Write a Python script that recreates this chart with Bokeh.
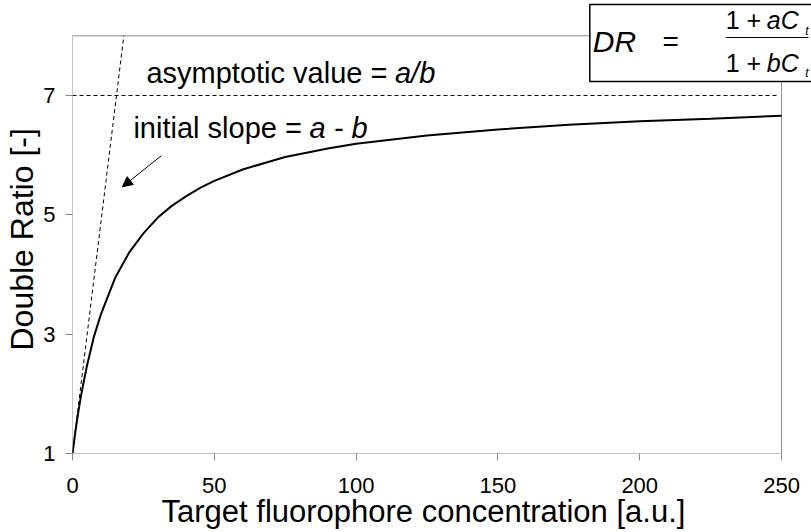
from bokeh.plotting import figure
from bokeh.models import Label, Arrow, NormalHead, FixedTicker, Range1d, Title
from bokeh.embed import file_html
from bokeh.resources import INLINE

# ---- data ----
conc = [0, 1, 2, 3, 5, 7.5, 10, 15, 20, 25, 30, 35, 40, 45, 50, 60, 75, 90, 100,
        125, 150, 175, 200, 225, 250]
double_ratio = [1.0, 1.36, 1.68, 1.97, 2.45, 2.95, 3.33, 3.94, 4.37, 4.69, 4.95,
                5.15, 5.31, 5.45, 5.57, 5.76, 5.97, 6.11, 6.19, 6.33, 6.43, 6.51,
                6.57, 6.61, 6.66]
asym_x = [0, 248.5]
asym_y = [7, 7]
slope_x = [0, 18.1]
slope_y = [1, 8]
x_ticks = [0, 50, 100, 150, 200, 250]
y_ticks = [1, 3, 5, 7]
x_lim = [0, 250]
y_lim = [1, 8]

FONT = "Liberation Sans"
GREY = "#8a8a8a"

p = figure(width=811, height=532, output_backend="svg", toolbar_location=None,
           x_range=Range1d(0, 260.56), y_range=Range1d(1, 8.592),
           min_border_left=71, min_border_right=0, min_border_top=0,
           min_border_bottom=79)
p.grid.visible = False
p.outline_line_color = None
p.background_fill_color = "white"
p.border_fill_color = "white"

for ax, ticks in ((p.xaxis, x_ticks), (p.yaxis, y_ticks)):
    ax.ticker = FixedTicker(ticks=ticks)
    ax.axis_line_color = None
    ax.major_tick_line_color = GREY
    ax.major_tick_out = 7
    ax.major_tick_in = 0
    ax.minor_tick_line_color = None
    ax.major_label_text_font = FONT
    ax.major_label_text_font_size = "22px"
    ax.major_label_text_color = "black"
p.xaxis.major_label_standoff = 17
p.yaxis.major_label_standoff = 10

# plot frame (drawn as lines so the equation box can overlap it)
p.line([x_lim[0], x_lim[0], x_lim[1], x_lim[1], x_lim[0]],
       [y_lim[0], y_lim[1], y_lim[1], y_lim[0], y_lim[0]],
       line_color=GREY, line_width=1)

# curve and guide lines
p.line(conc, double_ratio, line_color="black", line_width=2)
p.line(asym_x, asym_y, line_color="black", line_width=1, line_dash="4 3")
p.line(slope_x, slope_y, line_color="black", line_width=1, line_dash="4 3")

# axis titles
p.add_layout(Title(text="Target fluorophore concentration [a.u.]", align="left",
                   offset=89, standoff=-8, text_font=FONT, text_font_size="31px",
                   text_font_style="normal", text_color="black"), "below")
p.add_layout(Title(text="Double Ratio [-]", align="left", offset=103, standoff=2,
                   text_font=FONT, text_font_size="32px",
                   text_font_style="normal", text_color="black"), "left")

def lab(x, y, t, size="29px", style="normal", align="left", base="middle"):
    p.add_layout(Label(x=x, y=y, text=t, text_font=FONT, text_font_size=size,
                       text_font_style=style, text_align=align,
                       text_baseline=base, text_color="black"))

lab(26.06, 7.385, "asymptotic value = ")
lab(113.7, 7.385, "a/b", style="italic")
lab(21.48, 6.447, "initial slope = ")
lab(83.6, 6.447, "a - b", style="italic")

p.add_layout(Arrow(x_start=31.3, y_start=5.99, x_end=17.6, y_end=5.47,
                   line_color="black", line_width=1,
                   end=NormalHead(size=10, fill_color="black", line_color="black")))

# equation box
p.quad(left=182.4, right=262, top=8.525, bottom=7.235, fill_color="white",
       line_color="black", line_width=1.5)
lab(183.45, 7.905, "DR", size="30px", style="italic")
lab(210.9, 7.905, "=", size="28px", align="center")
lab(230.3, 8.269, "1 + ", size="25px")
lab(244.8, 8.269, "aC", size="25px", style="italic")
lab(258.4, 8.089, "t", size="12px", style="italic")
p.line([230.3, 259.5], [7.972, 7.972], line_color="black", line_width=1)
lab(230.3, 7.548, "1 + ", size="25px")
lab(244.8, 7.548, "bC", size="25px", style="italic")
lab(258.4, 7.369, "t", size="12px", style="italic")

open("out.html", "w").write(file_html(p, INLINE))
